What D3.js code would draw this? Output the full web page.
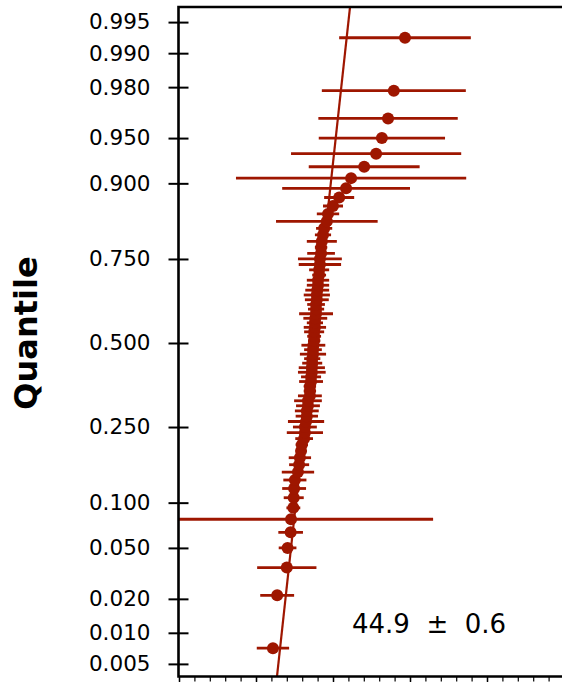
<!DOCTYPE html>
<html><head><meta charset="utf-8">
<script src="https://cdn.jsdelivr.net/npm/d3@7"></script>
<style>html,body{margin:0;padding:0;background:#fff;} svg{display:block;}</style>
</head><body>
<svg id="c" width="562" height="682"></svg>
<script>
// ---- data ----
const yTickValues = [0.005, 0.010, 0.020, 0.050, 0.100, 0.250, 0.500, 0.750, 0.900, 0.950, 0.980, 0.990, 0.995];
const values = [34.4, 35.5, 38.0, 38.2, 39.0, 39.1, 39.7, 39.8, 39.9, 40.1,
                40.9, 41.2, 41.4, 41.7, 41.9, 42.5, 42.7, 42.7, 43.0, 43.2,
                43.2, 43.5, 43.5, 44.0, 44.0, 44.0, 44.3, 44.3, 44.5, 44.5,
                44.6, 44.6, 44.8, 44.8, 44.9, 45.1, 45.1, 45.1, 45.3, 45.3,
                45.4, 45.6, 45.6, 45.6, 45.8, 45.8, 45.9, 46.1, 46.1, 46.4,
                46.4, 46.6, 46.6, 46.9, 46.9, 47.1, 47.4, 47.7, 48.4, 48.7,
                50.0, 51.6, 53.4, 54.7, 58.1, 61.2, 62.7, 64.3, 65.8, 68.7];
const errors = [4.2, 4.4, 7.7, 2.3, 3.2, 36.9, 1.8, 2.6, 3.1, 3.0,
                4.2, 2.6, 2.9, 1.3, 1.6, 2.3, 4.7, 3.1, 4.7, 2.9,
                3.1, 3.1, 3.6, 3.1, 1.6, 1.6, 3.1, 2.6, 3.6, 3.4,
                2.6, 2.1, 3.4, 2.3, 3.1, 1.6, 1.8, 2.6, 2.9, 2.1,
                3.1, 4.4, 2.1, 2.3, 3.1, 3.4, 3.1, 2.9, 2.9, 1.8,
                2.6, 5.5, 5.7, 3.6, 1.6, 3.9, 2.1, 2.1, 13.2, 2.9,
                2.6, 3.9, 16.6, 29.9, 14.4, 22.1, 16.4, 18.1, 18.7, 17.1];
const fitMean = 44.9;
const fitError = 0.6;
const fitSigma = 3.53;
const xDomain = [10, 110];
const xMajorTicks = [10, 30, 50, 70, 90, 110];
const xMinorTicks = d3.range(10, 111, 4);
const yLabel = "Quantile";

// ---- helpers ----
function probit(p) {
  const a = [-3.969683028665376e+01, 2.209460984245205e+02, -2.759285104469687e+02, 1.383577518672690e+02, -3.066479806614716e+01, 2.506628277459239e+00];
  const b = [-5.447609879822406e+01, 1.615858368580409e+02, -1.556989798598866e+02, 6.680131188771972e+01, -1.328068155288572e+01];
  const c = [-7.784894002430293e-03, -3.223964580411365e-01, -2.400758277161838e+00, -2.549732539343734e+00, 4.374664141464968e+00, 2.938163982698783e+00];
  const d = [7.784695709041462e-03, 3.224671290700398e-01, 2.445134137142996e+00, 3.754408661907416e+00];
  const pl = 0.02425, ph = 1 - pl;
  let q, r;
  if (p < pl) { q = Math.sqrt(-2 * Math.log(p));
    return (((((c[0]*q+c[1])*q+c[2])*q+c[3])*q+c[4])*q+c[5]) / ((((d[0]*q+d[1])*q+d[2])*q+d[3])*q+1); }
  if (p <= ph) { q = p - 0.5; r = q*q;
    return (((((a[0]*r+a[1])*r+a[2])*r+a[3])*r+a[4])*r+a[5])*q / (((((b[0]*r+b[1])*r+b[2])*r+b[3])*r+b[4])*r+1); }
  q = Math.sqrt(-2 * Math.log(1 - p));
  return -(((((c[0]*q+c[1])*q+c[2])*q+c[3])*q+c[4])*q+c[5]) / ((((d[0]*q+d[1])*q+d[2])*q+d[3])*q+1);
}

const COLOR = "#9e1600";
const plotL = 178.5, plotT = 7, plotB = 676.5, plotR = 600;
const svg = d3.select("#c");

const x = d3.scaleLinear().domain(xDomain).range([179, 564]);
const zScale = d3.scaleLinear().domain([-2.681, 2.697]).range([677, 7]);
function qScale(p) { return zScale(probit(p)); }
qScale.copy = () => qScale;
qScale.range = () => zScale.range();
qScale.domain = () => [0.001, 0.999];

const n = values.length;
const pts = values.map((v, i) => ({ v, e: errors[i], p: (i + 0.5) / n }));

// clip
svg.append("defs").append("clipPath").attr("id", "clip")
  .append("rect").attr("x", plotL).attr("y", plotT).attr("width", plotR - plotL).attr("height", plotB - plotT);

const g = svg.append("g").attr("clip-path", "url(#clip)");

// fit line
const zTop = zScale.invert(plotT - 2), zBot = zScale.invert(plotB + 2);
g.append("line")
  .attr("x1", x(fitMean + fitSigma * zBot)).attr("y1", zScale(zBot))
  .attr("x2", x(fitMean + fitSigma * zTop)).attr("y2", zScale(zTop))
  .attr("stroke", COLOR).attr("stroke-width", 2.2);

// error bars
g.selectAll("line.err").data(pts).join("line").attr("class", "err")
  .attr("x1", d => x(d.v - d.e)).attr("x2", d => x(d.v + d.e))
  .attr("y1", d => qScale(d.p)).attr("y2", d => qScale(d.p))
  .attr("stroke", COLOR).attr("stroke-width", 2.8);

// dots
svg.append("g").selectAll("circle").data(pts).join("circle")
  .attr("cx", d => x(d.v)).attr("cy", d => qScale(d.p)).attr("r", 6)
  .attr("fill", COLOR);

// y axis
const yAxis = d3.axisLeft(qScale).tickValues(yTickValues)
  .tickFormat(d3.format(".3f")).tickSize(10).tickPadding(18);
const ya = svg.append("g").attr("transform", `translate(${plotL},0)`).call(yAxis);
ya.select(".domain").remove();
ya.selectAll(".tick line").attr("x1", 10).attr("x2", -10).attr("stroke", "#000").attr("stroke-width", 2);
ya.selectAll(".tick text").attr("font-family", "DejaVu Sans").attr("font-size", 21.5).attr("fill", "#000");

// x axis (minor + major ticks, no labels)
const xMinor = svg.append("g").attr("transform", `translate(0,${plotB})`)
  .call(d3.axisBottom(x).tickValues(xMinorTicks).tickSize(5).tickFormat(""));
xMinor.select(".domain").remove();
xMinor.selectAll(".tick line").attr("stroke", "#000").attr("stroke-width", 1.2);
const xMajor = svg.append("g").attr("transform", `translate(0,${plotB})`)
  .call(d3.axisBottom(x).tickValues(xMajorTicks).tickSize(7).tickFormat(""));
xMajor.select(".domain").remove();
xMajor.selectAll(".tick line").attr("stroke", "#000").attr("stroke-width", 1.4);

// frame
svg.append("path")
  .attr("d", `M${plotR},${plotT}H${plotL}V${plotB}H${plotR}`)
  .attr("fill", "none").attr("stroke", "#000").attr("stroke-width", 2.6);

// y label
svg.append("text")
  .attr("transform", "translate(37,333) rotate(-90)")
  .attr("text-anchor", "middle")
  .attr("font-family", "DejaVu Sans").attr("font-weight", "bold").attr("font-size", 32)
  .attr("fill", "#000").text(yLabel);

// annotation
svg.append("text")
  .attr("x", 352).attr("y", 633)
  .attr("font-family", "DejaVu Sans").attr("font-size", 26)
  .style("white-space", "pre").attr("fill", "#000")
  .text(`${fitMean.toFixed(1)}  \u00b1  ${fitError.toFixed(1)}`);
</script>
</body></html>
